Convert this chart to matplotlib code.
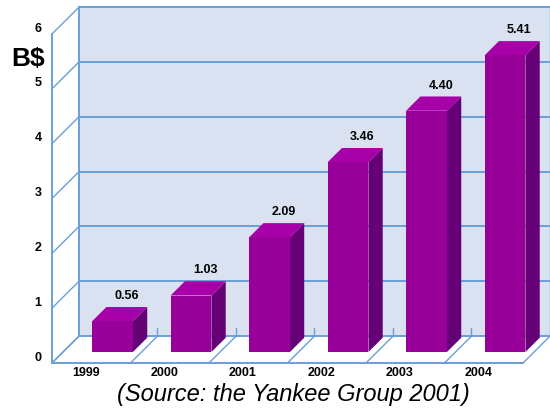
import matplotlib.pyplot as plt
from matplotlib.patches import Polygon, Rectangle

plt.rcParams["font.family"] = ["Liberation Sans", "DejaVu Sans"]

years = ["1999", "2000", "2001", "2002", "2003", "2004"]
revenue = [0.56, 1.03, 2.09, 3.46, 4.40, 5.41]
y_ticks = [0, 1, 2, 3, 4, 5, 6]

# pseudo-3d geometry (data units: x = category slot, y = B$)
DX, DY = 0.344, 0.49          # full depth offset of back wall
Z0, Z1 = 0.41, 0.94           # bar depth range (fraction of full depth)
OFF, W = 0.37, 0.52           # bar position inside slot
n = len(years)
ymax = y_ticks[-1]

wall_c = "#dae2f1"
grid_c = "#6a9fd6"
front_c = "#990099"
top_c = "#a800a8"
side_c = "#660077"

fig = plt.figure(figsize=(5.5, 4.09), dpi=100)
ax = fig.add_axes([0, 0, 1, 1])
ax.set_xlim(-0.662, 6.344)
ax.set_ylim(-0.839, 6.62)
ax.axis("off")


def p(x, y, z):
    return (x + z * DX, y + z * DY)


# back wall
ax.add_patch(Rectangle(p(0, 0, 1), n, ymax, facecolor=wall_c, edgecolor="none", zorder=1))
for t in y_ticks:
    ax.plot(*zip(p(0, t, 1), p(n, t, 1)), color=grid_c, lw=1.4, zorder=2)
    ax.plot(*zip(p(0, t, 0), p(0, t, 1)), color=grid_c, lw=1.0, zorder=2)
    ax.text(-0.18, t + 0.1, str(t), ha="center", va="center",
            fontsize=9, fontweight="bold")
ax.plot(*zip(p(0, 0, 1), p(0, ymax, 1)), color=grid_c, lw=1.4, zorder=2)
ax.plot(*zip(p(n, 0, 1), p(n, ymax, 1)), color=grid_c, lw=1.0, zorder=2)
ax.plot(*zip(p(0, 0, 0), p(0, ymax, 0)), color=grid_c, lw=1.4, zorder=2)

# floor
ax.plot(*zip(p(0, 0, 0), p(n, 0, 0)), color=grid_c, lw=1.4, zorder=2)
for i in range(n + 1):
    ax.plot(*zip(p(i, 0, 0), p(i, 0, 1)), color=grid_c, lw=1.0, zorder=2)
    if 0 < i < n:
        ax.plot(*zip(p(i, 0, 1), p(i, 0.15, 1)), color=grid_c, lw=1.0, zorder=2)

# bars
for i, v in enumerate(revenue):
    x0, x1 = i + OFF, i + OFF + W
    front = [p(x0, 0, Z0), p(x1, 0, Z0), p(x1, v, Z0), p(x0, v, Z0)]
    side = [p(x1, 0, Z0), p(x1, 0, Z1), p(x1, v, Z1), p(x1, v, Z0)]
    top = [p(x0, v, Z0), p(x1, v, Z0), p(x1, v, Z1), p(x0, v, Z1)]
    ax.add_patch(Polygon(side, closed=True, facecolor=side_c, edgecolor="none", zorder=3))
    ax.add_patch(Polygon(top, closed=True, facecolor=top_c, edgecolor="none", zorder=3))
    ax.add_patch(Polygon(front, closed=True, facecolor=front_c, edgecolor="none", zorder=3))
    lx, ly = p(i + OFF + W / 2, v + 0.09, Z1)
    ax.text(lx, ly, f"{v:.2f}", ha="center", va="bottom",
            fontsize=9, fontweight="bold", zorder=4)
    ax.text(i + 0.43, -0.19, years[i], ha="center", va="center",
            fontsize=9, fontweight="bold")

ax.text(-0.3, 5.55, "B$", ha="center", va="center", fontsize=19, fontweight="bold")
fig.text(0.533, 0.035, "(Source: the Yankee Group 2001)", ha="center", va="center",
         fontsize=17, style="italic")

fig.savefig("out.png", dpi=100)
